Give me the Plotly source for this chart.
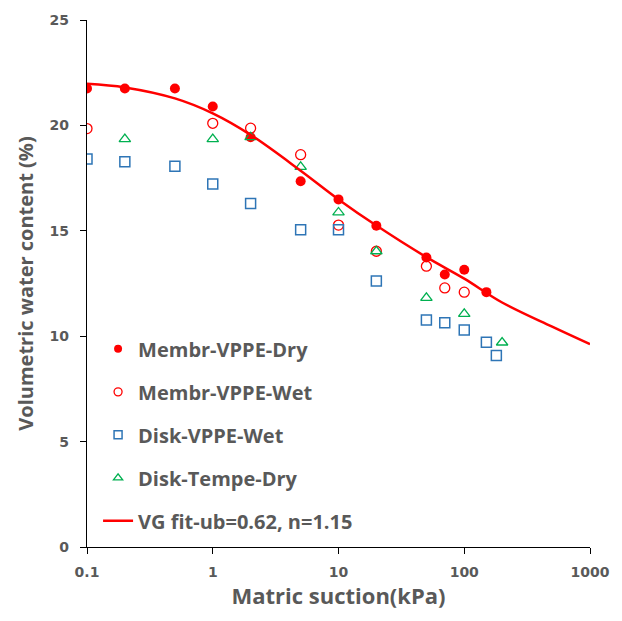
import plotly.graph_objects as go

# Membr-VPPE-Dry
dry_x = [0.1, 0.2, 0.5, 1, 2, 5, 10, 20, 50, 70, 100, 150]
dry_y = [21.75, 21.75, 21.75, 20.9, 19.44, 17.35, 16.49, 15.24, 13.73, 12.93, 13.15, 12.09]

# Membr-VPPE-Wet
wet_x = [0.1, 1, 2, 5, 10, 20, 50, 70, 100]
wet_y = [19.85, 20.1, 19.87, 18.61, 15.27, 14.03, 13.32, 12.29, 12.09]

# Disk-VPPE-Wet
disk_x = [0.1, 0.2, 0.5, 1, 2, 5, 10, 20, 50, 70, 100, 150, 180]
disk_y = [18.41, 18.27, 18.06, 17.22, 16.30, 15.05, 15.05, 12.62, 10.77, 10.64, 10.30, 9.71, 9.09]

# Disk-Tempe-Dry
tempe_x = [0.2, 1, 2, 5, 10, 20, 50, 100, 200]
tempe_y = [19.35, 19.35, 19.44, 18.03, 15.87, 14.03, 11.82, 11.06, 9.70]

# VG fit curve
fit_x = [0.1, 0.2, 0.5, 1, 2, 5, 10, 20, 50, 100, 200, 500, 1000]
fit_y = [21.97, 21.80, 21.28, 20.57, 19.55, 17.85, 16.49, 15.25, 13.75, 12.73, 11.60, 10.45, 9.62]

x_ticks = [0.1, 1, 10, 100, 1000]
x_ticktext = ["0.1", "1", "10", "100", "1000"]

FONT = "Open Sans"
TICKFONT = "DejaVu Sans"
GRAY = "#595959"
RED = "#FF0000"
BLUE = "#2E75B6"
GREEN = "#00B050"

series = [
    ("Membr-VPPE-Dry", dry_x, dry_y, "circle", RED, 0),
    ("Membr-VPPE-Wet", wet_x, wet_y, "circle-open", RED, 1.3),
    ("Disk-VPPE-Wet", disk_x, disk_y, "square-open", BLUE, 1.5),
    ("Disk-Tempe-Dry", tempe_x, tempe_y, "triangle-up-open", GREEN, 1.3),
]

fig = go.Figure()
for i, (name, xs, ys, sym, col, lw) in enumerate(series):
    fig.add_trace(go.Scatter(x=xs, y=ys, mode="markers", name=name, showlegend=False,
                             marker=dict(symbol=sym, size=10, color=col, line=dict(width=lw))))
    # legend entry with smaller marker
    fig.add_trace(go.Scatter(x=[None], y=[None], mode="markers", name=name,
                             legendgroup="g%d" % i,
                             marker=dict(symbol=sym, size=8, color=col, line=dict(width=lw))))
fig.add_trace(go.Scatter(x=fit_x, y=fit_y, mode="lines", name="VG fit-ub=0.62, n=1.15",
                         legendgroup="fit", line=dict(color=RED, width=2.5, shape="spline")))

fig.update_layout(
    width=622, height=621,
    margin=dict(l=87, r=30, t=16, b=74),
    plot_bgcolor="white", paper_bgcolor="white",
    font=dict(family=FONT, color=GRAY, size=13),
    legend=dict(x=0.022, y=0.413, xanchor="left", yanchor="top",
                bgcolor="rgba(0,0,0,0)", tracegroupgap=14,
                font=dict(family=FONT, size=20, color=GRAY, weight="bold")),
    xaxis=dict(type="log", range=[-1, 3], tickvals=x_ticks, ticktext=x_ticktext,
               showline=True, linecolor="black", linewidth=1.2,
               ticks="outside", ticklen=6, tickcolor="black",
               showgrid=False, zeroline=False, ticklabelstandoff=6,
               tickfont=dict(size=14, color=GRAY, family=TICKFONT, weight="bold"),
               title=dict(text="Matric suction(kPa)", standoff=8,
                          font=dict(size=22, color=GRAY, family=FONT, weight="bold"))),
    yaxis=dict(range=[0, 25], dtick=5,
               showline=True, linecolor="black", linewidth=1.2,
               ticks="outside", ticklen=6, tickcolor="black",
               showgrid=False, zeroline=False, ticklabelstandoff=8,
               tickfont=dict(size=14, color=GRAY, family=TICKFONT, weight="bold"),
               title=dict(text="Volumetric water content (%)", standoff=10,
                          font=dict(size=20, color=GRAY, family=FONT, weight="bold"))),
)

fig.write_html("out.html")
